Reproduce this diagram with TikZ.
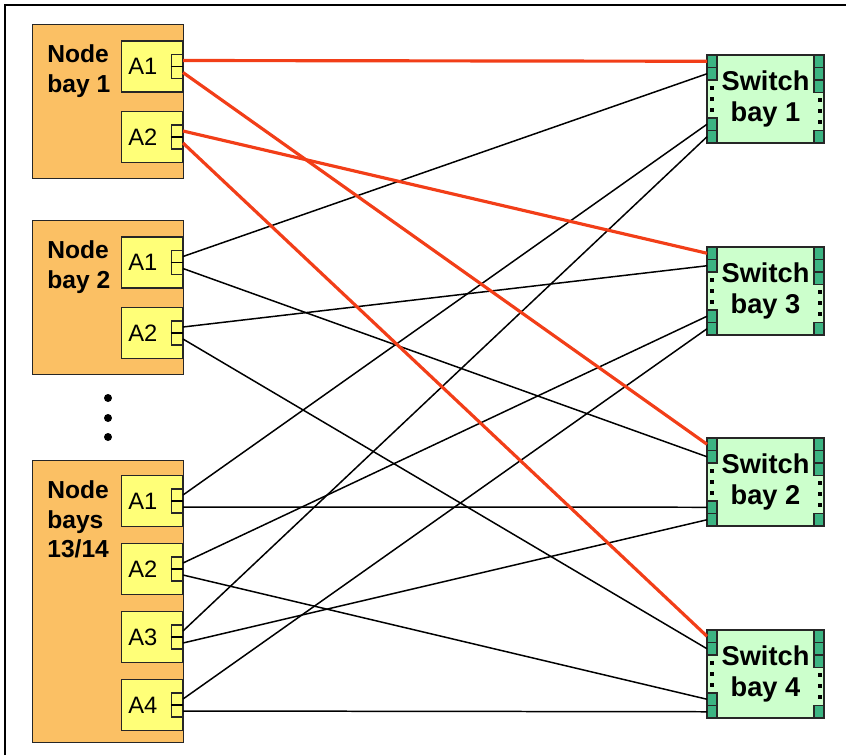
\documentclass[tikz,border=0pt]{standalone}
\usepackage{fontspec}
\setmainfont{Liberation Sans}
\usepackage{tikz}

\definecolor{bayorange}{RGB}{251,192,100}
\definecolor{cardyellow}{RGB}{255,255,120}
\definecolor{swgreen}{RGB}{204,255,204}
\definecolor{portgreen}{RGB}{60,180,130}
\definecolor{linkred}{RGB}{242,62,24}

\begin{document}
\begin{tikzpicture}[x=0.02cm, y=-0.02cm,
    bay/.style={draw=black!85, fill=bayorange, line width=0.8pt, minimum width=3.02cm, anchor=north west},
    baytext/.style={anchor=north west, inner sep=0, align=left, font=\fontsize{14}{17}\selectfont\bfseries},
    card/.style={draw=black!85, fill=cardyellow, line width=0.8pt, anchor=east, text width=0.94cm, inner xsep=0.14cm,
      minimum height=1.02cm, align=left, font=\fontsize{13.5}{15}\selectfont},
    port/.style={draw=black!85, fill=cardyellow, line width=0.7pt, anchor=east, minimum width=0.22cm, minimum height=0.48cm, inner sep=0},
    switch/.style={draw=black!85, fill=swgreen, line width=0.8pt, minimum width=2.34cm, minimum height=1.76cm,
      align=center, font=\fontsize{15.5}{17.5}\selectfont\bfseries},
    swport/.style={draw=black!85, fill=portgreen, line width=0.6pt},
    link/.style={line width=0.85pt},
    redlink/.style={line width=1.8pt, linkred}]
  \useasboundingbox (0,0) rectangle (846,755);
  \draw[line width=1.4pt] (5,755) -- (5,5) -- (846,5);

  % node bays
  \node[bay, minimum height=3.08cm] (b1) at (32,24) {};
  \node[bay, minimum height=3.08cm] (b2) at (32,220) {};
  \node[bay, minimum height=5.64cm] (b3) at (32,460) {};
  \node[baytext] (t1) at (47,44) {Node\\bay 1};
  \node[baytext] (t2) at (47,240) {Node\\bay 2};
  \node[baytext] (t3) at (47,480) {Node\\bays\\13/14};
  \foreach \y in {398,418,437}
    \fill (108,\y) circle (0.08cm);

  % adapters with two ports each
  \foreach \b/\a/\y in {1/1/66.5, 1/2/137, 2/1/262.5, 2/2/333, 3/1/501, 3/2/569, 3/3/637, 3/4/705} {
    \node[card] (b\b-a\a) at (183,\y) {A\a};
    \node[port] (b\b-p\a) at (183,\y) {};
    \draw[line width=0.7pt] (b\b-p\a.west) -- (b\b-p\a.east);
    \coordinate (b\b-a\a-u) at (183,\y-6);
    \coordinate (b\b-a\a-d) at (183,\y+6);
  }

  % switches
  \foreach \n/\t in {1/55, 3/247, 2/438, 4/630} {
    \node[switch] (s\n) at (765.5,\t+44) {Switch\\bay \n};
    \foreach \k/\dy in {1/0, 2/12.5, 3/63, 4/75.5} {
      \draw[swport] (707,\t+\dy) rectangle ++(10,12.5);
      \coordinate (s\n-\k) at (707,\t+\dy+6.25);
    }
    \foreach \dy in {0, 12.5, 25, 75.5}
      \draw[swport] (814,\t+\dy) rectangle ++(10,12.5);
    \foreach \dy in {33, 44, 55}
      \fill (710,\t+\dy-2) rectangle ++(4,4);
    \foreach \dy in {45, 56, 67}
      \fill (818,\t+\dy-2) rectangle ++(4,4);
  }

  % links
  \foreach \f/\g in {b2-a1-u/s1-2, b2-a1-d/s2-2, b2-a2-u/s3-2, b2-a2-d/s4-2,
      b3-a1-u/s1-3, b3-a1-d/s2-3, b3-a2-u/s3-3, b3-a2-d/s4-3,
      b3-a3-u/s1-4, b3-a3-d/s2-4, b3-a4-u/s3-4, b3-a4-d/s4-4}
    \draw[link] (\f) -- (\g);
  \foreach \f/\g in {b1-a1-u/s1-1, b1-a1-d/s2-1, b1-a2-u/s3-1, b1-a2-d/s4-1}
    \draw[redlink] (\f) -- (\g);
\end{tikzpicture}
\end{document}
